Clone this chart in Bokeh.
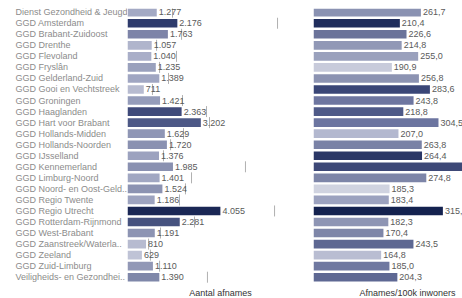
from bokeh.plotting import figure
from bokeh.layouts import row
from bokeh.models import Range1d, Title, ColumnDataSource
from bokeh.embed import file_html
from bokeh.resources import INLINE
from bokeh.core.properties import value

regios = [
    "Dienst Gezondheid & Jeugd", "GGD Amsterdam", "GGD Brabant-Zuidoost", "GGD Drenthe",
    "GGD Flevoland", "GGD Fryslân", "GGD Gelderland-Zuid", "GGD Gooi en Vechtstreek",
    "GGD Groningen", "GGD Haaglanden", "GGD Hart voor Brabant", "GGD Hollands-Midden",
    "GGD Hollands-Noorden", "GGD IJsselland", "GGD Kennemerland", "GGD Limburg-Noord",
    "GGD Noord- en Oost-Geld..", "GGD Regio Twente", "GGD Regio Utrecht",
    "GGD Rotterdam-Rijnmond", "GGD West-Brabant", "GGD Zaanstreek/Waterla..",
    "GGD Zeeland", "GGD Zuid-Limburg", "Veiligheids- en Gezondhei..",
]
aantal_afnames = [1277, 2176, 1763, 1057, 1040, 1235, 1389, 711, 1421, 2363, 3202, 1629,
                  1720, 1376, 1985, 1401, 1524, 1186, 4055, 2281, 1191, 810, 629, 1110, 1390]
referentie = [1965, 6550, 2360, 1270, 2140, 1400, 1790, 1090, 2400, 3450, 3580, 2445,
              1880, 1570, 5150, 2795, 2530, 2270, 6420, 2925, 1440, 920, 1000, 1400, 3490]
afnames_100k = [261.7, 210.4, 226.6, 214.8, 255.0, 190.9, 256.8, 283.6, 243.8, 218.8, 304.5,
                207.0, 263.8, 264.4, 372.0, 274.8, 185.3, 183.4, 315.2, 182.3, 170.4, 243.5,
                164.8, 185.0, 204.3]

kleur_links = ["#a3a9c4", "#2e3b6c", "#7d84a8", "#b0b5cc", "#a9aec8", "#9aa1bd", "#a0a6c2",
               "#b7bbd0", "#959cba", "#3f4a7a", "#4d5886", "#8f96b5", "#8a91b1", "#9ca2bf",
               "#8a91b1", "#a1a7c2", "#8c93b2", "#9da3bf", "#1a2755", "#46527f", "#8d94b3",
               "#b7bbd0", "#bfc3d6", "#9298b6", "#7f87a9"]
kleur_rechts = ["#8a92b2", "#1f2d5c", "#6b739a", "#9198b6", "#9aa1bd", "#c8cbdb", "#8c93b2",
                "#3a4677", "#6e76a0", "#4f5a88", "#6c75a0", "#b3b8cf", "#7a82a6", "#2a3766",
                "#3d4877", "#7d85a8", "#d0d3e0", "#9ca2bf", "#14224f", "#8e95b4", "#7e86a8",
                "#5d6792", "#b9bdd2", "#6f78a0", "#5e6893"]

n = len(regios)
idx = list(range(n))
FONT = "Liberation Sans"
FH = 276


def nl_int(v):
    return f"{v:,}".replace(",", ".")


def nl_dec(v):
    return f"{v:.1f}".replace(".", ",")


def base(w, xr):
    p = figure(frame_width=w, frame_height=FH, x_range=xr,
               y_range=Range1d(n - 1 + 0.66, -0.335),
               x_axis_type=None, y_axis_type=None,
               output_backend="svg", toolbar_location=None, min_border=0)
    p.min_border_top = 8
    p.grid.visible = False
    p.outline_line_color = None
    p.background_fill_color = "white"
    p.border_fill_color = "white"
    return p


def add_title(p, text, align, offset=0):
    t = Title(text=text, align=align, offset=offset, text_font_size="9px",
              text_font_style="normal", text_color="#333333", text_font=FONT, standoff=2)
    p.add_layout(t, "below")


# labels column
src_lab = ColumnDataSource(dict(y=idx, x=[0] * n, t=regios))
p0 = base(127, Range1d(0, 127))
p0.text(x="x", y="y", text="t", source=src_lab, x_offset=15, text_font=value(FONT),
        text_font_size="9px", text_color="#8c8c8c", text_baseline="middle", text_align="left")
p0.min_border_bottom = 12

# left bars
src_l = ColumnDataSource(dict(y=idx, v=aantal_afnames, c=kleur_links, ref=referentie,
                              t=[nl_int(v) for v in aantal_afnames]))
p1 = base(186, Range1d(0, 8120))
p1.hbar(y="y", left=0, right="v", height=0.78, fill_color="c", line_color=None, source=src_l)
p1.scatter(x="ref", y="y", marker="dash", angle=1.5708, size=11, line_color="#b0b0b0",
           line_width=1, source=src_l)
p1.text(x="v", y="y", text="t", source=src_l, x_offset=2, text_font=value(FONT),
        text_font_size="9px", text_color="#5a5a5a", text_baseline="middle", text_align="left")
add_title(p1, "Aantal afnames", "center")

# right bars
src_r = ColumnDataSource(dict(y=idx, v=afnames_100k, c=kleur_rechts,
                              t=[nl_dec(v) for v in afnames_100k]))
p2 = base(149, Range1d(0, 363))
p2.hbar(y="y", left=0, right="v", height=0.78, fill_color="c", line_color=None, source=src_r)
p2.text(x="v", y="y", text="t", source=src_r, x_offset=2, text_font=value(FONT),
        text_font_size="9px", text_color="#5a5a5a", text_baseline="middle", text_align="left")
add_title(p2, "Afnames/100k inwoners", "right", 7)

layout = row(p0, p1, p2, spacing=0)
open("out.html", "w").write(file_html(layout, INLINE))
